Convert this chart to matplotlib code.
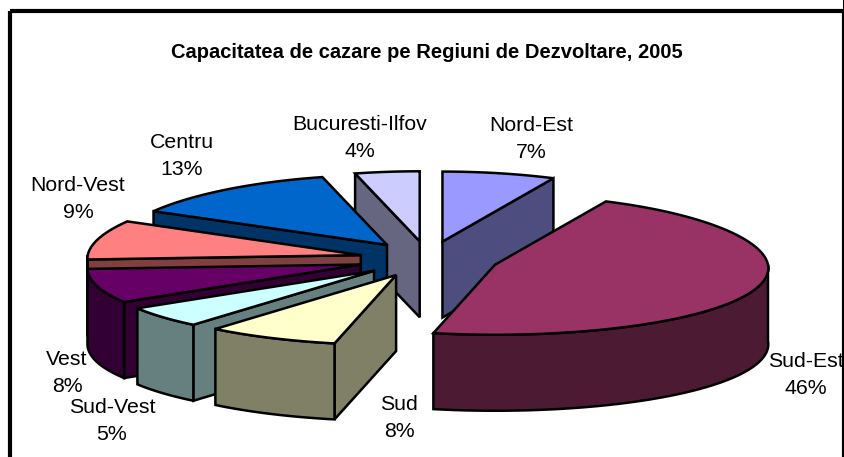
import numpy as np
import matplotlib
matplotlib.use("Agg")
import matplotlib.pyplot as plt
from matplotlib.patches import Polygon, Rectangle

plt.rcParams['font.family'] = ['Liberation Sans', 'DejaVu Sans']

# data (clockwise from 12 o'clock); labels show these rounded
regions = ['Nord-Est', 'Sud-Est', 'Sud', 'Sud-Vest', 'Vest', 'Nord-Vest', 'Centru', 'Bucuresti-Ilfov']
shares = [7, 46.45, 7.55, 5, 8, 9, 13, 4]
title = 'Capacitatea de cazare pe Regiuni de Dezvoltare, 2005'

# styles
top_colors = ['#9999FF', '#993366', '#FFFFCC', '#CCFFFF', '#660066', '#FF8080', '#0066CC', '#CCCCFF']
side_colors = ['#4D4D80', '#4D1A33', '#808066', '#668080', '#330033', '#804040', '#003366', '#666680']
draw_order = [7, 0, 6, 5, 4, 3, 2, 1]
label_x = [531, 806, 399, 112, 67, 78, 182, 360]
label_y = [139, 375, 418, 421, 373, 199, 156, 138]

# layout in pixels
CX, CY, RX, RY, DEPTH, EXPLODE, PERSP = 428, 259, 273, 70, 76, 0.255, 0.05
LW = 1.8

fig = plt.figure(figsize=(8.45, 4.57), dpi=100)
ax = fig.add_axes([0, 0, 1, 1])
ax.set_xlim(0, 845)
ax.set_ylim(457, 0)
ax.axis('off')


def pt(theta, r=1.0):
    # a slight perspective: the rim is narrower at the back, wider at the front
    scale = 1 - PERSP * np.cos(theta)
    return np.array([r * RX * np.sin(theta) * scale, -r * RY * np.cos(theta)])


def poly(points, color, z):
    ax.add_patch(Polygon(points, closed=True, facecolor=color, edgecolor='black',
                         linewidth=LW, joinstyle='miter', zorder=z))


total = sum(shares)
edges = 2 * np.pi * np.cumsum([0] + shares) / total
z = 2
for i in draw_order:
    a0, a1 = edges[i], edges[i + 1]
    mid = (a0 + a1) / 2
    apex = np.array([CX, CY]) + pt(mid, EXPLODE)
    down = np.array([0, DEPTH])
    # radial cut faces facing the viewer
    if np.sin(a0) < -1e-6:
        o = apex + pt(a0)
        poly([apex, o, o + down, apex + down], side_colors[i], z)
        z += 1
    if np.sin(a1) > 1e-6:
        o = apex + pt(a1)
        poly([apex, o, o + down, apex + down], side_colors[i], z)
        z += 1
    # outer curved wall
    lo, hi = max(a0, np.pi / 2), min(a1, 3 * np.pi / 2)
    if hi > lo:
        th = np.linspace(lo, hi, 80)
        arc = np.array([apex + pt(t) for t in th])
        poly(np.vstack([arc, arc[::-1] + down]), side_colors[i], z)
        z += 1
    # top
    th = np.linspace(a0, a1, 120)
    arc = np.array([apex + pt(t) for t in th])
    poly(np.vstack([[apex], arc]), top_colors[i], z)
    z += 1

for name, val, x, y in zip(regions, shares, label_x, label_y):
    ax.text(x, y, f'{name}\n{val:.0f}%', ha='center', va='center', fontsize=15.3,
            linespacing=1.48, color='black', zorder=50)

ax.text(427, 52, title, ha='center', va='center', fontsize=14.5, fontweight='bold', zorder=50)

ax.add_patch(Rectangle((10, 11), 834, 470, fill=False, edgecolor='black', linewidth=3,
                       joinstyle='miter', zorder=60))
ax.add_patch(Rectangle((843, 0), 2, 457, facecolor='black', edgecolor='none', zorder=60))

fig.savefig('out.png', dpi=100)
